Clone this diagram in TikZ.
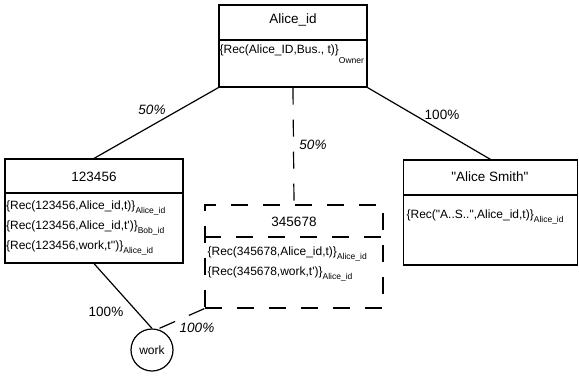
\documentclass[tikz,border=0pt]{standalone}
\usepackage{fontspec}
\setmainfont{Liberation Sans}[Ligatures=TeXOff]
\newcommand{\sbs}[2][-4pt]{\raisebox{#1}{\fontsize{8.5}{10}\selectfont #2}}
\begin{document}
\begin{tikzpicture}[x=1pt,y=-1pt, line width=1.2pt,
  box/.style={draw, line width=1.2pt, rectangle, inner sep=0pt},
  dpat/.style={dash pattern=on 17pt off 15pt},
  ttl/.style={anchor=base, inner sep=0pt, font=\fontsize{13.5}{16}\selectfont},
  body/.style={anchor=base west, inner sep=0pt, font=\fontsize{12}{14}\selectfont},
  lbl/.style={inner sep=0pt, font=\fontsize{13.5}{16}\selectfont},
  ilbl/.style={inner sep=0pt, font=\fontsize{13.5}{16}\selectfont\itshape}]
\useasboundingbox (0,0) rectangle (579,376);

% boxes
\node[box, minimum width=148pt, minimum height=82pt] (A) at (293,46) {};
\node[box, minimum width=178pt, minimum height=104pt] (B) at (94,211) {};
\node[box, dpat, minimum width=178pt, minimum height=103pt] (C) at (294,256.5) {};
\node[box, minimum width=174pt, minimum height=105pt] (D) at (490.5,212.5) {};
\node[draw, circle, minimum size=42pt, inner sep=0pt, font=\fontsize{12}{14}\selectfont] (W) at (152,350) {work};

% dividers
\draw (A.west |- 0,40) -- (A.east |- 0,40);
\draw (B.west |- 0,193) -- (B.east |- 0,193);
\draw[dpat] (C.west |- 0,237) -- (C.east |- 0,237);
\draw (D.west |- 0,195) -- (D.east |- 0,195);

% titles
\node[ttl] (tA) at (293,23) {Alice\_id};
\node[ttl] (tB) at (94,181.5) {123456};
\node[ttl] (tC) at (294,226) {345678};
\node[ttl] (tD) at (490,181.5) {"Alice Smith"};

% bodies
\node[body] (bA) at (219,53) {\{Rec(Alice\_ID,Bus., t)\}\sbs[-10pt]{Owner}};
\node[body] (bB1) at (5.5,209) {\{Rec(123456,Alice\_id,t)\}\sbs{Alice\_id}};
\node[body] (bB2) at (5.5,229) {\{Rec(123456,Alice\_id,t')\}\sbs{Bob\_id}};
\node[body] (bB3) at (5.5,249) {\{Rec(123456,work,t'')\}\sbs{Alice\_id}};
\node[body] (bC1) at (207,255) {\{Rec(345678,Alice\_id,t)\}\sbs{Alice\_id}};
\node[body] (bC2) at (207,275) {\{Rec(345678,work,t')\}\sbs{Alice\_id}};
\node[body] (bD) at (406,218) {\{Rec("A..S..",Alice\_id,t)\}\sbs{Alice\_id}};

% connectors
\draw (A.south west) -- (B.north);
\draw (A.south east) -- (D.north);
\draw[dpat] (A.south) -- (C.north);
\draw (B.south) -- (W.north);
\draw[dpat] (C.south west) -- (W.75);

% labels
\node[ilbl] (l1) at (152,110) {50\%};
\node[ilbl] (l2) at (313,145) {50\%};
\node[lbl] (l3) at (442,115) {100\%};
\node[lbl] (l4) at (106,312) {100\%};
\node[ilbl] (l5) at (197,328) {100\%};
\end{tikzpicture}
\end{document}
